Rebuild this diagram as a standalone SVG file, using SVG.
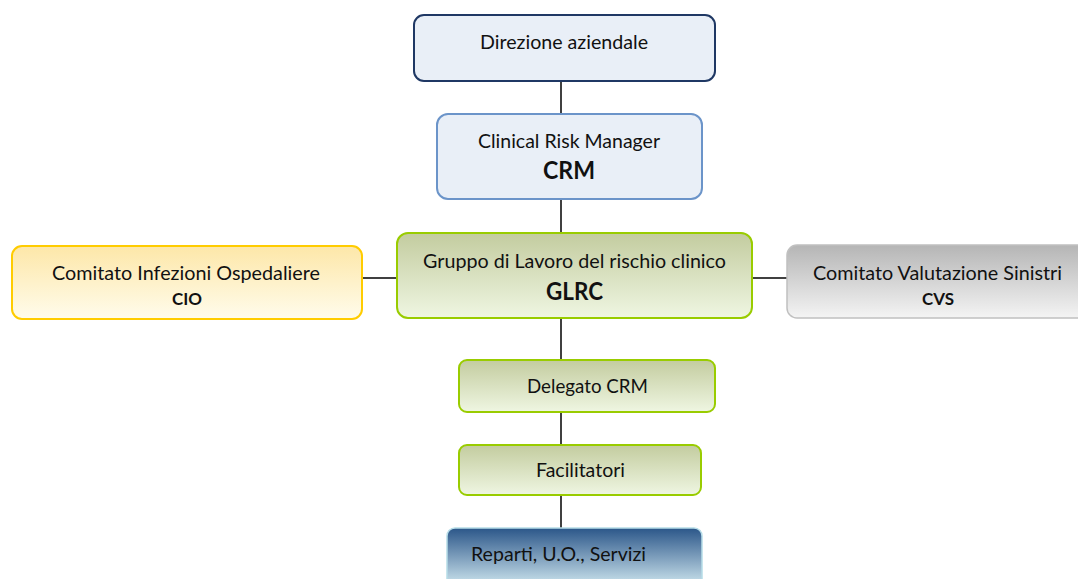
<svg xmlns="http://www.w3.org/2000/svg" width="1078" height="579" viewBox="0 0 1078 579">
<defs>
<linearGradient id="gYellow" x1="0" y1="0" x2="0" y2="1"><stop offset="0" stop-color="#fde7a8"/><stop offset="1" stop-color="#fffcec"/></linearGradient>
<linearGradient id="gGreen" x1="0" y1="0" x2="0" y2="1"><stop offset="0" stop-color="#c3cc9f"/><stop offset="1" stop-color="#eff6e2"/></linearGradient>
<linearGradient id="gGray" x1="0" y1="0" x2="0" y2="1"><stop offset="0" stop-color="#b5b5b5"/><stop offset="1" stop-color="#f4f4f4"/></linearGradient>
<linearGradient id="gBlue" x1="0" y1="0" x2="0" y2="1"><stop offset="0" stop-color="#2b5689"/><stop offset="1" stop-color="#d4ebf2"/></linearGradient>
</defs>
<style>
text{font-family:Lato,"Liberation Sans",Arial,sans-serif;fill:#111;text-anchor:middle}
.n{font-size:20px}
.b{font-weight:bold;font-size:24px}
.s{font-weight:bold;font-size:17px}
.c{stroke:#000;stroke-width:1.5;fill:none}
</style>
<rect width="1078" height="579" fill="#fff"/>
<g id="connectors">
<line class="c" x1="561" y1="81" x2="561" y2="114"/>
<line class="c" x1="561" y1="199" x2="561" y2="233"/>
<line class="c" x1="561" y1="318" x2="561" y2="360"/>
<line class="c" x1="561" y1="412" x2="561" y2="445"/>
<line class="c" x1="561" y1="495" x2="561" y2="528"/>
<line class="c" x1="362" y1="278" x2="397" y2="278"/>
<line class="c" x1="752" y1="278" x2="787" y2="278"/>
</g>
<g id="direzione">
<rect x="414" y="15" width="301" height="66" rx="10" fill="#e9eff7" stroke="#1f3864" stroke-width="2"/>
<text class="n" x="564" y="49" textLength="168" lengthAdjust="spacingAndGlyphs">Direzione aziendale</text>
</g>
<g id="crm">
<rect x="437" y="114" width="265" height="85" rx="11" fill="#e9eff7" stroke="#6b94c9" stroke-width="2"/>
<text class="n" x="569" y="148" textLength="182" lengthAdjust="spacingAndGlyphs">Clinical Risk Manager</text>
<text class="b" x="569" y="179" textLength="52" lengthAdjust="spacingAndGlyphs">CRM</text>
</g>
<g id="cio">
<rect x="12" y="246" width="350" height="73" rx="10" fill="url(#gYellow)" stroke="#ffcc00" stroke-width="2"/>
<text class="n" x="186" y="280" textLength="268" lengthAdjust="spacingAndGlyphs">Comitato Infezioni Ospedaliere</text>
<text class="s" x="187" y="305" textLength="30" lengthAdjust="spacingAndGlyphs">CIO</text>
</g>
<g id="glrc">
<rect x="397" y="233" width="355" height="85" rx="11" fill="url(#gGreen)" stroke="#99cc00" stroke-width="2"/>
<text class="n" x="574.5" y="268" textLength="303" lengthAdjust="spacingAndGlyphs">Gruppo di Lavoro del rischio clinico</text>
<text class="b" x="574.5" y="300" textLength="57" lengthAdjust="spacingAndGlyphs">GLRC</text>
</g>
<g id="cvs">
<rect x="787" y="245" width="300" height="73" rx="10" fill="url(#gGray)" stroke="#c0c0c0" stroke-width="1.5"/>
<text class="n" x="937.5" y="280" textLength="249" lengthAdjust="spacingAndGlyphs">Comitato Valutazione Sinistri</text>
<text class="s" x="938" y="305" textLength="32" lengthAdjust="spacingAndGlyphs">CVS</text>
</g>
<g id="delegato">
<rect x="459" y="360" width="256" height="52" rx="8" fill="url(#gGreen)" stroke="#99cc00" stroke-width="2"/>
<text class="n" x="587.5" y="393" textLength="121" lengthAdjust="spacingAndGlyphs">Delegato CRM</text>
</g>
<g id="facilitatori">
<rect x="459" y="445" width="242" height="50" rx="8" fill="url(#gGreen)" stroke="#99cc00" stroke-width="2"/>
<text class="n" x="580.5" y="477" textLength="89" lengthAdjust="spacingAndGlyphs">Facilitatori</text>
</g>
<g id="reparti">
<rect x="447" y="528" width="255" height="60" rx="8" fill="url(#gBlue)" stroke="#b7dde8" stroke-width="1.5"/>
<text class="n" x="471" y="561" style="text-anchor:start" textLength="175" lengthAdjust="spacingAndGlyphs">Reparti, U.O., Servizi</text>
</g>
</svg>
